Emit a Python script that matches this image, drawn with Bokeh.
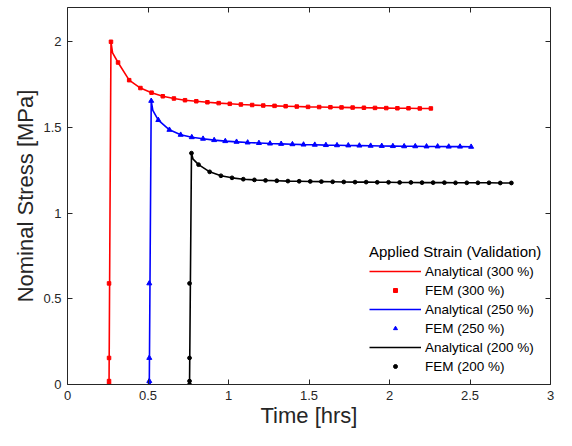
from bokeh.plotting import figure
from bokeh.models import (LinearAxis, FixedTicker, Legend, LegendItem,
                          CustomJSTickFormatter, Range1d)
from bokeh.embed import file_html
from bokeh.resources import INLINE

# ---------------- data ----------------
load_times = [0.25, 0.50, 0.75]          # hrs, start of each test
labels_strain = ["300 %", "250 %", "200 %"]
colors = ["#FF0000", "#0000FF", "#000000"]
markers = ["square", "triangle", "circle"]
marker_sizes = [3.5, 5.0, 3.8]

# time offsets (hrs) relative to load time: ramp points, peak, relaxation points
fem_offsets = [0.008, 0.008, 0.008, 0.008, 0.020,
               0.064, 0.133, 0.203, 0.272, 0.342, 0.411, 0.480, 0.550, 0.619,
               0.689, 0.758, 0.827, 0.897, 0.966, 1.036, 1.105, 1.174, 1.244,
               1.313, 1.383, 1.452, 1.521, 1.591, 1.660, 1.730, 1.799, 1.868,
               1.938, 2.007]

fem_300 = [0.0, 0.02, 0.155, 0.59, 2.00,
           1.879, 1.776, 1.730, 1.703, 1.682, 1.669, 1.659, 1.653, 1.647,
           1.642, 1.638, 1.634, 1.631, 1.628, 1.626, 1.624, 1.622, 1.620,
           1.619, 1.618, 1.617, 1.616, 1.615, 1.614, 1.613, 1.612, 1.612,
           1.611, 1.611]
fem_250 = [0.0, 0.02, 0.155, 0.59, 1.655,
           1.543, 1.486, 1.457, 1.443, 1.434, 1.426, 1.420, 1.416, 1.412,
           1.409, 1.406, 1.404, 1.402, 1.400, 1.399, 1.397, 1.396, 1.395,
           1.394, 1.393, 1.392, 1.391, 1.390, 1.390, 1.389, 1.389, 1.388,
           1.388, 1.387]
fem_200 = [0.0, 0.02, 0.155, 0.59, 1.350,
           1.283, 1.241, 1.218, 1.206, 1.198, 1.194, 1.191, 1.189, 1.187,
           1.186, 1.185, 1.184, 1.183, 1.182, 1.181, 1.181, 1.180, 1.180,
           1.179, 1.179, 1.178, 1.178, 1.178, 1.177, 1.177, 1.177, 1.177,
           1.176, 1.176]

# analytical curves: same sampling plus one extra point just after the peak
ana_offsets = [0.008, 0.020, 0.030,
               0.064, 0.133, 0.203, 0.272, 0.342, 0.411, 0.480, 0.550, 0.619,
               0.689, 0.758, 0.827, 0.897, 0.966, 1.036, 1.105, 1.174, 1.244,
               1.313, 1.383, 1.452, 1.521, 1.591, 1.660, 1.730, 1.799, 1.868,
               1.938, 2.007]
ana_300 = [0.0, 2.00, 1.935] + fem_300[5:]
ana_250 = [0.0, 1.655, 1.600] + fem_250[5:]
ana_200 = [0.0, 1.350, 1.315] + fem_200[5:]

x_ticks = [0, 0.5, 1, 1.5, 2, 2.5, 3]
x_tick_labels = ["0", "0.5", "1", "1.5", "2", "2.5", "3"]
y_ticks = [0, 0.5, 1, 1.5, 2]
y_tick_labels = ["0", "0.5", "1", "1.5", "2"]

# ---------------- figure ----------------
FONT = "Liberation Sans"
AX = "#262626"

p = figure(width=556, height=430, output_backend="svg", toolbar_location=None,
           x_range=Range1d(0, 3), y_range=Range1d(0, 2.2),
           min_border_left=67, min_border_right=6, min_border_top=7,
           min_border_bottom=45)
p.xgrid.visible = False
p.ygrid.visible = False
p.outline_line_color = None
p.background_fill_color = "white"

fem_sets = [fem_300, fem_250, fem_200]
ana_sets = [ana_300, ana_250, ana_200]
items = []
for t0, lab, c, m, ms, fy, ay in zip(load_times, labels_strain, colors, markers,
                                     marker_sizes, fem_sets, ana_sets):
    ax_ = [t0 + o for o in ana_offsets]
    fx_ = [t0 + o for o in fem_offsets]
    lr = p.line(ax_, ay, line_color=c, line_width=1.6)
    sr = p.scatter(fx_, fy, marker=m, size=ms, fill_color=c, line_color=c)
    items.append(LegendItem(label="Analytical (" + lab + ")", renderers=[lr]))
    items.append(LegendItem(label="FEM (" + lab + ")", renderers=[sr]))

# main axes
xa = p.xaxis[0]
ya = p.yaxis[0]
xa.ticker = FixedTicker(ticks=x_ticks)
ya.ticker = FixedTicker(ticks=y_ticks)
xa.major_label_overrides = {t: l for t, l in zip(x_ticks, x_tick_labels)}
ya.major_label_overrides = {t: l for t, l in zip(y_ticks, y_tick_labels)}
xa.axis_label = "Time [hrs]"
ya.axis_label = "Nominal Stress [MPa]"
for a in (xa, ya):
    a.minor_tick_line_color = None
    a.major_tick_in = 5
    a.major_tick_out = 0
    a.axis_line_color = AX
    a.major_tick_line_color = AX
    a.major_label_text_font = FONT
    a.major_label_text_font_size = "13px"
    a.major_label_text_color = AX
    a.axis_label_text_font = FONT
    a.axis_label_text_font_size = "22px"
    a.axis_label_text_font_style = "normal"
    a.axis_label_text_color = AX
xa.major_label_standoff = 6
xa.axis_label_standoff = 0
ya.major_label_standoff = 6
ya.axis_label_standoff = 2

# mirror axes (top/right) with inward ticks and no labels
top = LinearAxis(ticker=FixedTicker(ticks=x_ticks),
                 formatter=CustomJSTickFormatter(code="return '';"))
right = LinearAxis(ticker=FixedTicker(ticks=y_ticks),
                   formatter=CustomJSTickFormatter(code="return '';"))
for a in (top, right):
    a.minor_tick_line_color = None
    a.major_tick_in = 5
    a.major_tick_out = 0
    a.axis_line_color = AX
    a.major_tick_line_color = AX
    a.major_label_standoff = 0
    a.major_label_text_font_size = "0px"
    a.axis_label_standoff = 0
p.add_layout(top, "above")
p.add_layout(right, "right")

legend = Legend(items=items, location=(302, 10))
legend.title = "Applied Strain (Validation)"
legend.title_text_font = FONT
legend.title_text_font_size = "15px"
legend.title_text_font_style = "normal"
legend.title_text_color = "#000000"
legend.title_standoff = 3
legend.label_text_font = FONT
legend.label_text_font_size = "13.5px"
legend.label_text_color = "#000000"
legend.glyph_width = 52
legend.glyph_height = 10
legend.label_height = 16
legend.label_standoff = 4
legend.spacing = 3
legend.padding = 0
legend.margin = 0
legend.border_line_color = None
legend.background_fill_alpha = 0
p.add_layout(legend, "center")

open("out.html", "w").write(file_html(p, INLINE))
